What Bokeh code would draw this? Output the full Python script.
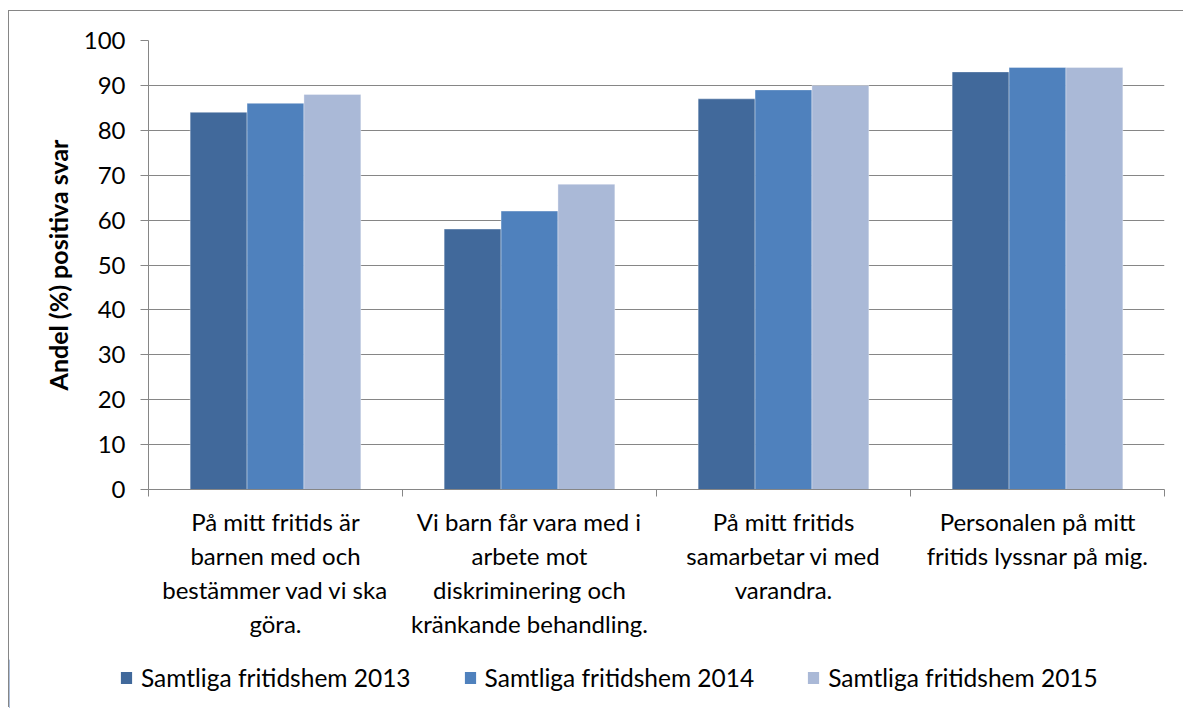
from bokeh.plotting import figure
from bokeh.layouts import column
from bokeh.models import Range1d, FixedTicker, Legend, LegendItem, ColumnDataSource
from bokeh.embed import file_html
from bokeh.resources import INLINE

categories = [
    "På mitt fritids är\nbarnen med och\nbestämmer vad vi ska\ngöra.",
    "Vi barn får vara med i\narbete mot\ndiskriminering och\nkränkande behandling.",
    "På mitt fritids\nsamarbetar vi med\nvarandra.",
    "Personalen på mitt\nfritids lyssnar på mig.",
]
series_names = ["Samtliga fritidshem 2013", "Samtliga fritidshem 2014", "Samtliga fritidshem 2015"]
values_2013 = [84, 58, 87, 93]
values_2014 = [86, 62, 89, 94]
values_2015 = [88, 68, 90, 94]
y_ticks = [0, 10, 20, 30, 40, 50, 60, 70, 80, 90, 100]
y_label = "Andel (%) positiva svar"

colors = ["#41699B", "#4F81BD", "#AAB9D7"]
series = [values_2013, values_2014, values_2015]

FONT = "Lato"
GRAY = "#868686"
n = len(categories)
bar_w = 0.224

W = 1175
H1 = 648
p = figure(width=W, height=H1, x_range=Range1d(0, n), y_range=Range1d(0, 100),
           output_backend="svg", toolbar_location=None,
           min_border_left=139, min_border_right=19, min_border_top=29, min_border_bottom=170)
p.outline_line_color = None
p.background_fill_color = "white"

for k, (vals, col) in enumerate(zip(series, colors)):
    xs = [i + 0.5 + (k - 1) * bar_w for i in range(n)]
    src = ColumnDataSource(dict(x=xs, top=vals))
    p.vbar(x="x", top="top", width=bar_w, bottom=0, source=src,
           fill_color=col, line_color="white", line_alpha=0.35, line_width=1)

# axes
p.xaxis.ticker = FixedTicker(ticks=[i + 0.5 for i in range(n)], minor_ticks=list(range(n + 1)))
p.xaxis.major_label_overrides = {i + 0.5: categories[i] for i in range(n)}
p.xaxis.major_tick_in = 0
p.xaxis.major_tick_out = 0
p.xaxis.minor_tick_in = 0
p.xaxis.minor_tick_out = 7
p.xaxis.minor_tick_line_color = GRAY
p.xaxis.axis_line_color = GRAY
p.xaxis.major_label_text_font = FONT
p.xaxis.major_label_text_font_size = "24px"
p.xaxis.major_label_text_color = "black"
p.xaxis.major_label_text_line_height = 1.18
p.xaxis.major_label_standoff = 10

p.yaxis.ticker = FixedTicker(ticks=y_ticks)
p.yaxis.minor_tick_line_color = None
p.yaxis.major_tick_in = 0
p.yaxis.major_tick_out = 8
p.yaxis.major_tick_line_color = GRAY
p.yaxis.axis_line_color = GRAY
p.yaxis.major_label_text_font = FONT
p.yaxis.major_label_text_font_size = "24px"
p.yaxis.major_label_text_color = "black"
p.yaxis.major_label_standoff = 15
p.yaxis.axis_label = y_label
p.yaxis.axis_label_text_font = FONT
p.yaxis.axis_label_text_font_style = "bold"
p.yaxis.axis_label_text_font_size = "25px"
p.yaxis.axis_label_text_color = "black"
p.yaxis.axis_label_standoff = 8

p.xgrid.grid_line_color = None
p.ygrid.ticker = FixedTicker(ticks=y_ticks)
p.ygrid.grid_line_color = GRAY
p.ygrid.grid_line_width = 1

# legend strip (hidden swatch renderers lie outside its view range)
H2 = 697 - H1
p2 = figure(width=W, height=H2, output_backend="svg", toolbar_location=None,
            x_range=Range1d(0, 1), y_range=Range1d(0, 1),
            x_axis_location=None, y_axis_location=None,
            min_border=0, min_border_left=0, min_border_right=0, min_border_top=0, min_border_bottom=0)
p2.frame_align = False
p2.outline_line_color = None
p2.grid.grid_line_color = None
p2.border_fill_alpha = 0
p2.background_fill_alpha = 0
lr = []
for col in colors:
    lr.append(p2.vbar(x=[-10], top=[1], width=1, fill_color=col, line_color=None))

legend = Legend(items=[LegendItem(label=nm, renderers=[r]) for nm, r in zip(series_names, lr)],
                orientation="horizontal", location=(110, 16),
                glyph_width=14, glyph_height=15, label_standoff=8, spacing=52,
                label_text_font=FONT, label_text_font_size="24.5px", label_text_color="black",
                border_line_color=None, background_fill_alpha=0, padding=0, margin=0)
p2.add_layout(legend)

layout = column(p, p2, spacing=0, width=W, height=H1 + H2,
                styles={"margin-left": "8px", "margin-top": "10px",
                        "border-left": "1px solid " + GRAY, "border-top": "1px solid " + GRAY})

open("out.html", "w").write(file_html(layout, INLINE))
